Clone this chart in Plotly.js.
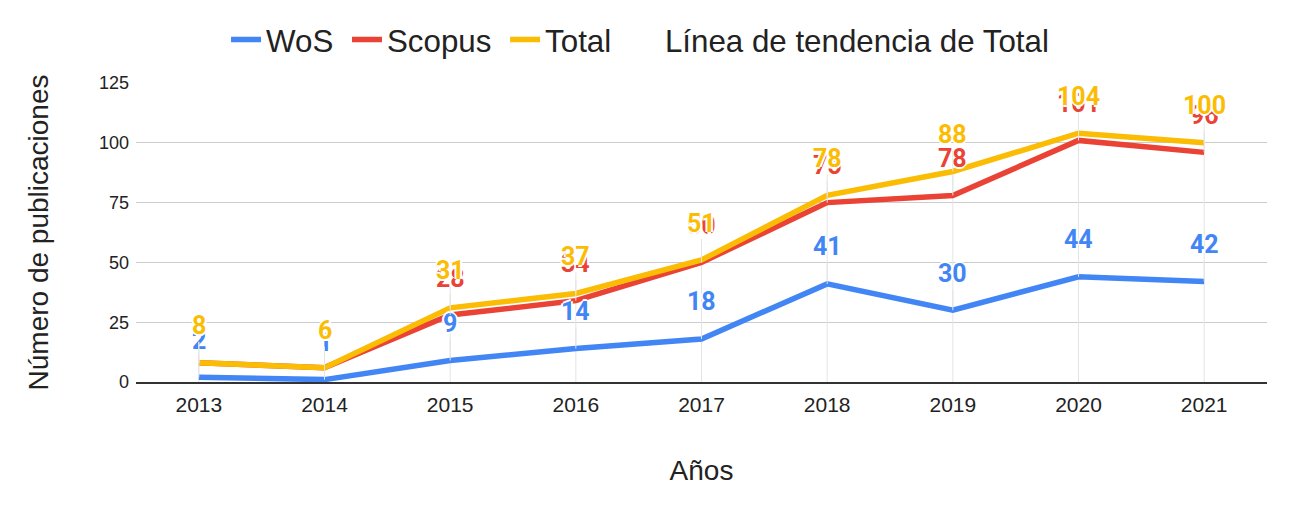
<!DOCTYPE html>
<html>
<head>
<meta charset="utf-8">
<script src="https://cdn.plot.ly/plotly-3.0.1.min.js"></script>
<style>html,body{margin:0;padding:0;background:#fff;}#chart{width:1292px;height:511px;}</style>
</head>
<body>
<div id="chart"></div>
<script>
var years = ["2013","2014","2015","2016","2017","2018","2019","2020","2021"];
var wos = [2, 1, 9, 14, 18, 41, 30, 44, 42];
var scopus = [8, 6, 28, 34, 50, 75, 78, 101, 96];
var total = [8, 6, 31, 37, 51, 78, 88, 104, 100];
var seriesNames = ["WoS", "Scopus", "Total", "Línea de tendencia de Total"];
var xTitle = "Años";
var yTitle = "Número de publicaciones";

var cBlue = "#4285F4", cRed = "#EA4335", cYellow = "#FBBC04";
var halo = "2px 0 0 #fff, -2px 0 0 #fff, 0 2px 0 #fff, 0 -2px 0 #fff";
var pad = "\u00a0";

var traces = [
  {x: years, y: total, type: "scatter", mode: "markers", showlegend: false, hoverinfo: "skip",
   marker: {size: 1, opacity: 0},
   error_y: {type: "data", symmetric: false, array: total.map(function(){return 0;}), arrayminus: total,
             color: "#e4e4e4", thickness: 1, width: 0}},
  {x: years, y: wos, name: seriesNames[0] + pad, type: "scatter", mode: "lines", line: {color: cBlue, width: 5.5}},
  {x: years, y: scopus, name: seriesNames[1] + pad, type: "scatter", mode: "lines", line: {color: cRed, width: 5.5}},
  {x: years, y: total, name: seriesNames[2] + pad, type: "scatter", mode: "lines", line: {color: cYellow, width: 5.5}},
  {x: years, y: total, name: seriesNames[3], type: "scatter", mode: "lines", hoverinfo: "skip",
   line: {color: "rgba(0,0,0,0)", width: 0}}
];

function labels(vals, color) {
  return vals.map(function(v, i) {
    return {x: i, y: v, xref: "x", yref: "y", text: "<b>" + v + "</b>", showarrow: true,
      ax: 0, ay: -37, arrowhead: 0, arrowwidth: 1, arrowcolor: "#e4e4e4", standoff: 0,
      font: {family: "Roboto, Arial, sans-serif", size: 25, color: color, shadow: halo}};
  });
}
var annotations = [].concat(labels(wos, cBlue), labels(scopus, cRed), labels(total, cYellow));

var layout = {
  width: 1292, height: 511,
  margin: {l: 136, r: 25, t: 83, b: 129},
  paper_bgcolor: "#fff", plot_bgcolor: "#fff",
  font: {family: "Liberation Sans, Arial, sans-serif", color: "#222"},
  showlegend: true,
  legend: {orientation: "h", x: 0.0796, xanchor: "left", y: 1.145, yanchor: "middle",
           font: {family: "Liberation Sans, Arial, sans-serif", size: 31.3, color: "#222"},
           traceorder: "normal"},
  xaxis: {type: "category", range: [-0.5, 8.5], showgrid: false, showline: true, linecolor: "#333", linewidth: 2,
          ticks: "", tickfont: {size: 21, color: "#222"}, zeroline: false, ticklabelstandoff: 3,
          title: {text: xTitle, font: {size: 28, color: "#222"}, standoff: 45}, automargin: false},
  yaxis: {range: [0, 125], tickvals: [0, 25, 50, 75, 100, 125], showgrid: true, gridcolor: "#cccccc", gridwidth: 1,
          zeroline: false, showline: false, ticks: "", tickfont: {size: 18, color: "#222"}, ticklabelstandoff: 6,
          title: {text: yTitle + pad + pad + pad, font: {size: 28, color: "#222"}, standoff: 42}, automargin: false},
  annotations: annotations
};

Plotly.newPlot("chart", traces, layout, {displayModeBar: false});
</script>
</body>
</html>
